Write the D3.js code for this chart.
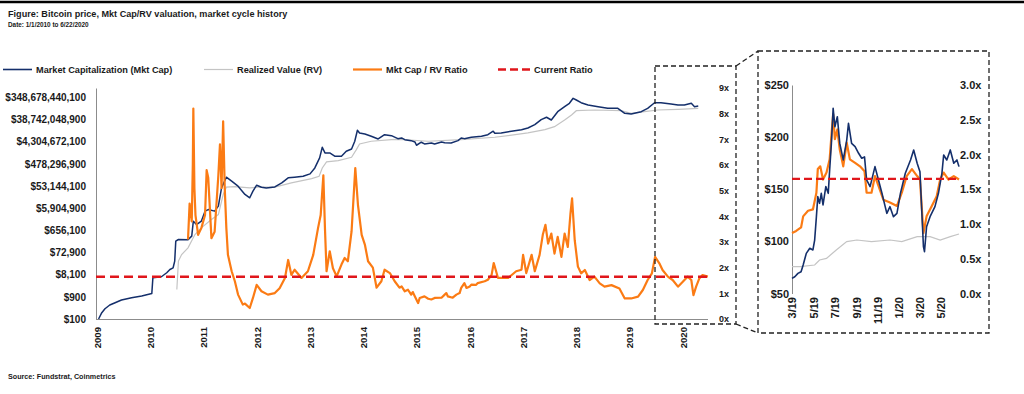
<!DOCTYPE html>
<html>
<head>
<meta charset="utf-8">
<script src="https://cdn.jsdelivr.net/npm/d3@7"></script>
<style>
  body { margin: 0; background: #fff; }
  text { font-family: Arial, "Liberation Sans", sans-serif; font-weight: bold; fill: #1a1a1a; }
</style>
</head>
<body>
<script>
// ---- data ----
// main chart: [decimal year, value]
const mktCap = [
  [2009.03, 100], [2009.09, 187], [2009.15, 277], [2009.24, 400], [2009.34, 502], [2009.46, 656],
  [2009.65, 822], [2009.84, 975], [2010.03, 1260], [2010.05, 5960],
  [2010.21, 6580], [2010.31, 9770], [2010.37, 13550], [2010.43, 16000], [2010.46, 31100], [2010.48, 225000],
  [2010.53, 264000], [2010.71, 260000], [2010.78, 370000], [2010.81, 1.63e6], [2010.87, 1.16e6], [2010.96, 1.63e6],
  [2011.03, 4.39e6], [2011.09, 5.14e6], [2011.21, 4.39e6], [2011.28, 7.19e6], [2011.34, 4.4e7], [2011.43, 1.27e8],
  [2011.53, 8.55e7], [2011.65, 5.21e7], [2011.78, 2.3e7], [2011.87, 1.65e7], [2011.93, 3.2e7], [2012.0, 5.75e7],
  [2012.09, 4.72e7], [2012.18, 4.4e7], [2012.34, 4.86e7], [2012.47, 7.23e7], [2012.59, 1.19e8], [2012.71, 1.27e8],
  [2012.87, 1.4e8], [2013.0, 1.76e8], [2013.09, 3.18e8], [2013.18, 8.57e8], [2013.23, 2.47e9], [2013.28, 1.41e9],
  [2013.37, 1.41e9], [2013.47, 1.01e9], [2013.59, 1.01e9], [2013.68, 1.67e9], [2013.78, 2.09e9], [2013.84, 4.48e9],
  [2013.89, 1.33e10], [2013.93, 1.02e10], [2014.03, 9.23e9], [2014.15, 7.35e9], [2014.28, 5.62e9], [2014.40, 8.59e9],
  [2014.53, 7.79e9], [2014.65, 5.8e9], [2014.72, 6.21e9], [2014.78, 5.25e9], [2014.90, 4.75e9], [2014.97, 4.18e9],
  [2015.0, 3.01e9], [2015.09, 4.06e9], [2015.15, 3.43e9], [2015.28, 3.78e9], [2015.34, 3.43e9], [2015.47, 4.18e9],
  [2015.53, 3.9e9], [2015.65, 3.78e9], [2015.78, 4.75e9], [2015.84, 6.21e9], [2015.90, 5.8e9], [2016.03, 6.65e9],
  [2016.22, 7.35e9], [2016.34, 8.59e9], [2016.44, 1.21e10], [2016.47, 9.9e9], [2016.59, 1.02e10], [2016.78, 1.21e10],
  [2016.97, 1.41e10], [2017.09, 1.67e10], [2017.22, 2.32e10],
  [2017.34, 3.8e10], [2017.44, 4.82e10], [2017.53, 3.68e10], [2017.65, 8.37e10], [2017.78, 1.38e11], [2017.87, 1.93e11],
  [2017.94, 3.16e11], [2018.0, 2.67e11], [2018.09, 2.04e11], [2018.22, 1.63e11], [2018.41, 1.38e11], [2018.59, 1.17e11],
  [2018.78, 1.17e11], [2018.91, 7.14e10], [2019.03, 6.68e10], [2019.22, 8.37e10], [2019.34, 1.17e11], [2019.47, 2.04e11],
  [2019.59, 2.04e11], [2019.78, 1.8e11], [2019.91, 1.63e11], [2020.03, 1.63e11], [2020.16, 1.93e11], [2020.22, 1.38e11],
  [2020.29, 1.47e11]
];
const realizedValue = [
  [2010.50, 1870], [2010.53, 31100], [2010.59, 59800], [2010.71, 1.16e5], [2010.84, 4.34e5], [2010.96, 8.41e5],
  [2011.15, 1.91e6], [2011.28, 3.13e6], [2011.37, 2.27e7], [2011.43, 4.72e7], [2011.59, 5.01e7], [2011.87, 4.4e7],
  [2012.03, 4.72e7], [2012.34, 4.72e7], [2012.65, 7.23e7], [2013.03, 1.11e8], [2013.17, 1.4e8], [2013.23, 3.18e8],
  [2013.31, 5.78e8], [2013.53, 6.56e8], [2013.78, 9.19e8], [2013.87, 1.95e9], [2013.93, 3.43e9], [2014.15, 4.48e9],
  [2014.53, 5.25e9], [2014.68, 5.35e9], [2015.22, 4.48e9], [2015.84, 5.25e9], [2016.47, 6.65e9], [2017.09, 1.02e10],
  [2017.41, 1.41e10], [2017.59, 1.9e10], [2017.78, 3.68e10], [2017.91, 6.05e10], [2018.0, 9.25e10], [2018.34, 9.91e10],
  [2018.84, 9.25e10], [2019.03, 7.14e10], [2019.28, 8.37e10], [2019.53, 9.91e10], [2019.91, 1.06e11], [2020.29, 1.17e11]
];
const ratio = [
  [2010.71, 3.1], [2010.74, 4.5], [2010.78, 3.8], [2010.80, 6.0], [2010.81, 8.2], [2010.83, 5.1], [2010.85, 4.05],
  [2010.90, 3.28], [2010.96, 3.54], [2011.03, 4.05], [2011.06, 5.8], [2011.09, 5.5], [2011.15, 3.15], [2011.21, 3.4],
  [2011.28, 5.6], [2011.31, 6.8], [2011.34, 5.1], [2011.37, 7.7], [2011.40, 5.1], [2011.43, 3.55], [2011.46, 2.5],
  [2011.53, 1.86], [2011.59, 1.47], [2011.65, 0.95], [2011.74, 0.56], [2011.78, 0.6], [2011.87, 0.43], [2011.93, 0.82],
  [2012.0, 1.33], [2012.09, 1.08], [2012.21, 0.95], [2012.34, 1.01], [2012.43, 1.2], [2012.53, 1.6], [2012.59, 2.3],
  [2012.65, 1.72], [2012.71, 1.92], [2012.84, 1.6], [2012.96, 1.86], [2013.06, 2.5], [2013.15, 3.54], [2013.20, 4.05],
  [2013.25, 5.6], [2013.28, 3.54], [2013.31, 1.86], [2013.37, 2.64], [2013.43, 1.98], [2013.50, 1.66], [2013.59, 2.12],
  [2013.65, 2.38], [2013.71, 2.25], [2013.78, 3.41], [2013.85, 5.88], [2013.90, 4.45], [2013.97, 3.28], [2014.03, 2.9],
  [2014.09, 2.25], [2014.18, 2.0], [2014.25, 1.22], [2014.34, 1.47], [2014.40, 1.92], [2014.50, 1.79], [2014.59, 1.47],
  [2014.68, 1.22], [2014.72, 1.27], [2014.78, 1.08], [2014.84, 1.14], [2014.90, 0.95], [2014.93, 1.05], [2014.97, 0.88],
  [2015.03, 0.62], [2015.06, 0.82], [2015.15, 0.88], [2015.22, 0.79], [2015.28, 0.76], [2015.34, 0.82], [2015.47, 0.83],
  [2015.53, 0.95], [2015.56, 1.01], [2015.59, 0.88], [2015.68, 0.83], [2015.75, 0.95], [2015.81, 1.01], [2015.84, 1.21],
  [2015.90, 1.4], [2015.94, 1.21], [2016.0, 1.27], [2016.03, 1.34], [2016.12, 1.33], [2016.15, 1.4], [2016.28, 1.47],
  [2016.34, 1.53], [2016.41, 1.72], [2016.45, 2.18], [2016.53, 1.6], [2016.72, 1.6], [2016.87, 1.86], [2016.97, 1.92], [2017.0, 2.5],
  [2017.06, 1.79], [2017.16, 2.5], [2017.22, 1.86], [2017.31, 2.5], [2017.37, 3.28], [2017.42, 3.67], [2017.47, 2.94],
  [2017.53, 3.33], [2017.59, 2.55], [2017.65, 3.2], [2017.72, 2.42], [2017.78, 3.33], [2017.84, 2.81], [2017.89, 4.11],
  [2017.92, 4.7], [2017.97, 3.07], [2018.03, 2.04], [2018.09, 1.78], [2018.16, 1.91], [2018.25, 1.52], [2018.34, 1.65],
  [2018.44, 1.39], [2018.53, 1.26], [2018.66, 1.32], [2018.81, 1.19], [2018.91, 0.8], [2019.03, 0.8], [2019.16, 0.87],
  [2019.25, 1.13], [2019.34, 1.52], [2019.42, 1.78], [2019.48, 2.42], [2019.56, 2.17], [2019.62, 1.91], [2019.72, 1.65],
  [2019.81, 1.52], [2019.91, 1.26], [2020.0, 1.45], [2020.09, 1.65], [2020.16, 1.52], [2020.20, 0.93], [2020.25, 1.26],
  [2020.31, 1.58], [2020.37, 1.71], [2020.47, 1.65]
];
const currentRatio = 1.65;
const capTicks = d3.range(11).map(k => 100 * Math.pow(9, k));   // $100 ... $348,678,440,100
const ratioTicks = d3.range(10);                                 // 0x ... 9x

// inset (3/19 - 6/20): [date, value]; mkt cap / RV in $bn
const insetCap = [
  ["2019-03-01", 64.5], ["2019-03-09", 66.1], ["2019-03-18", 69.3], ["2019-03-27", 70.9], ["2019-04-02", 77.3],
  ["2019-04-11", 88.5], ["2019-04-21", 93.4], ["2019-04-30", 91.8], ["2019-05-05", 101.3], ["2019-05-10", 123.7],
  ["2019-05-14", 142.9], ["2019-05-19", 136.5], ["2019-05-24", 146.1], ["2019-05-29", 134.9], ["2019-06-06", 152.5],
  ["2019-06-13", 146.1], ["2019-06-17", 168.5], ["2019-06-22", 194.0], ["2019-06-27", 227.7], ["2019-07-02", 210.0],
  ["2019-07-09", 219.6], ["2019-07-16", 194.0], ["2019-07-26", 178.1], ["2019-08-05", 197.2], ["2019-08-10", 213.2],
  ["2019-08-19", 194.0], ["2019-08-29", 190.9], ["2019-09-08", 184.5], ["2019-09-17", 179.7], ["2019-09-25", 181.0],
  ["2019-10-01", 158.9], ["2019-10-11", 152.5], ["2019-10-25", 171.7], ["2019-11-04", 158.9], ["2019-11-14", 146.1],
  ["2019-11-28", 126.9], ["2019-12-07", 133.3], ["2019-12-17", 123.7], ["2019-12-27", 126.9], ["2020-01-06", 146.1],
  ["2020-01-20", 165.3], ["2020-02-04", 178.1], ["2020-02-13", 187.7], ["2020-02-23", 174.9], ["2020-03-02", 166.9],
  ["2020-03-12", 94.9], ["2020-03-15", 90.1], ["2020-03-21", 114.1], ["2020-03-31", 123.7], ["2020-04-14", 133.3],
  ["2020-04-24", 146.1], ["2020-05-04", 165.3], ["2020-05-09", 182.9], ["2020-05-18", 178.1], ["2020-05-28", 187.7],
  ["2020-06-07", 174.9], ["2020-06-16", 178.1], ["2020-06-22", 171.7]
];
const insetRV = [
  ["2019-03-01", 75.7], ["2019-03-24", 75.7], ["2019-05-05", 77.3], ["2019-05-19", 82.1], ["2019-06-08", 83.7],
  ["2019-07-06", 91.8], ["2019-08-05", 99.8], ["2019-09-03", 101.3], ["2019-10-15", 99.8], ["2019-12-07", 101.3],
  ["2020-01-10", 99.8], ["2020-02-23", 104.6], ["2020-03-31", 104.6], ["2020-04-29", 101.3], ["2020-05-28", 104.6],
  ["2020-06-22", 107.1]
];
const insetRatio = [
  ["2019-03-01", 0.87], ["2019-03-13", 0.9], ["2019-03-27", 0.95], ["2019-04-02", 1.11], ["2019-04-16", 1.19],
  ["2019-04-30", 1.21], ["2019-05-10", 1.45], ["2019-05-14", 1.79], ["2019-05-21", 1.83], ["2019-05-29", 1.64],
  ["2019-06-08", 1.74], ["2019-06-17", 1.93], ["2019-06-22", 2.27], ["2019-06-27", 2.58], ["2019-07-02", 2.22],
  ["2019-07-09", 2.36], ["2019-07-16", 2.07], ["2019-07-26", 1.83], ["2019-08-05", 2.17], ["2019-08-14", 1.93],
  ["2019-08-29", 1.88], ["2019-09-12", 1.83], ["2019-09-25", 1.76], ["2019-10-01", 1.45], ["2019-10-15", 1.45],
  ["2019-10-25", 1.69], ["2019-11-04", 1.55], ["2019-11-18", 1.35], ["2019-12-07", 1.31], ["2019-12-27", 1.26],
  ["2020-01-10", 1.45], ["2020-01-24", 1.69], ["2020-02-08", 1.79], ["2020-02-23", 1.69], ["2020-03-02", 1.64],
  ["2020-03-12", 0.87], ["2020-03-21", 1.11], ["2020-04-05", 1.26], ["2020-04-19", 1.4], ["2020-04-29", 1.64],
  ["2020-05-09", 1.74], ["2020-05-23", 1.64], ["2020-06-07", 1.69], ["2020-06-22", 1.64]
];
const insetCapTicks = [50, 100, 150, 200, 250];
const insetRatioTicks = [0, 0.5, 1, 1.5, 2, 2.5, 3];

const legendItems = [
  {label: "Market Capitalization (Mkt Cap)", color: "#142f6b", dash: null, w: 1.6, x: 3},
  {label: "Realized Value (RV)", color: "#c4c4c4", dash: null, w: 1.2, x: 204},
  {label: "Mkt Cap / RV Ratio", color: "#fb7b14", dash: null, w: 2.2, x: 353},
  {label: "Current Ratio", color: "#e0161b", dash: "8,4", w: 2.5, x: 498}
];

// ---- helpers ----
function yearToDate(y) {
  const yr = Math.floor(y);
  const a = Date.UTC(yr, 0, 1), b = Date.UTC(yr + 1, 0, 1);
  return new Date(a + (y - yr) * (b - a));
}
const parse = d3.utcParse("%Y-%m-%d");

const NAVY = "#142f6b", GREY = "#c4c4c4", ORANGE = "#fb7b14", RED = "#e0161b", AXIS = "#8c8c8c";

const svg = d3.select("body").append("svg")
    .attr("width", 1024)
    .attr("height", 394);

svg.append("rect").attr("width", 1024).attr("height", 394).attr("fill", "#fff");

// header
svg.append("line")
    .attr("x1", 0).attr("x2", 1024).attr("y1", 2).attr("y2", 2)
    .attr("stroke", "#000").attr("stroke-width", 2.5);
svg.append("text").attr("x", 8).attr("y", 17).attr("font-size", "9.1px")
    .text("Figure: Bitcoin price, Mkt Cap/RV valuation, market cycle history");
svg.append("text").attr("x", 8).attr("y", 27).attr("font-size", "6.4px")
    .text("Date: 1/1/2010 to 6/22/2020");
svg.append("text").attr("x", 8).attr("y", 378.5).attr("font-size", "7.2px")
    .text("Source: Fundstrat, Coinmetrics");

// legend
var legend = svg.selectAll("g.legend")
    .data(legendItems)
    .enter().append("g")
    .attr("class", "legend")
    .attr("transform", d => "translate(" + d.x + ",69.5)");
legend.append("line")
    .attr("x1", 0).attr("x2", d => d.dash ? 34 : 29)
    .attr("stroke", d => d.color)
    .attr("stroke-width", d => d.w)
    .attr("stroke-dasharray", d => d.dash);
legend.append("text")
    .attr("x", d => d.dash ? 36 : 33)
    .attr("dy", "0.35em")
    .attr("font-size", "9.2px")
    .text(d => d.label);

// ---- main chart ----
const x = d3.scaleUtc()
    .domain([new Date(Date.UTC(2009, 0, 1)), new Date(Date.UTC(2020, 5, 22))])
    .range([97, 708]);
const yCap = d3.scaleLog().base(9)
    .domain([100, 100 * Math.pow(9, 10.42)])
    .range([319, 88]);
const yRatio = d3.scaleLinear()
    .domain([0, 9])
    .range([319, 88]);

const main = svg.append("g").attr("class", "main");

main.append("g")
    .attr("class", "cap axis")
    .attr("transform", "translate(96,0)")
    .call(d3.axisLeft(yCap).tickValues(capTicks)
        .tickFormat(d => "$" + d3.format(",")(Math.round(d)))
        .tickSize(0).tickSizeOuter(0).tickPadding(10))
    .call(g => g.selectAll("text").attr("font-size", "10px").attr("fill", "#1a1a1a"))
    .call(g => g.select(".domain").attr("stroke", AXIS));

main.append("g")
    .attr("class", "ratio axis")
    .attr("transform", "translate(708,0)")
    .call(d3.axisRight(yRatio).tickValues(ratioTicks).tickFormat(d => d + "x")
        .tickSize(0).tickPadding(11))
    .call(g => g.selectAll("text").attr("font-size", "9px").attr("fill", "#1a1a1a"))
    .call(g => g.select(".domain").remove());

main.append("g")
    .attr("class", "year axis")
    .attr("transform", "translate(0,319)")
    .call(d3.axisBottom(x).ticks(d3.utcYear.every(1)).tickFormat(d3.utcFormat("%Y"))
        .tickSize(0).tickSizeOuter(0))
    .call(g => g.select(".domain").attr("stroke", AXIS).attr("d", "M96,0.5H708"))
    .call(g => g.selectAll("text")
        .attr("font-size", "9.6px").attr("fill", "#1a1a1a")
        .attr("transform", "rotate(-90)")
        .attr("text-anchor", "end")
        .attr("x", -8).attr("y", 0).attr("dy", "0.35em"));

const capLine = d3.line().x(d => x(yearToDate(d[0]))).y(d => yCap(d[1]));
const ratioLine = d3.line().x(d => x(yearToDate(d[0]))).y(d => yRatio(d[1]));

main.append("path").datum(realizedValue)
    .attr("fill", "none").attr("stroke", GREY).attr("stroke-width", 1.2)
    .attr("d", capLine);
main.append("path").datum(mktCap)
    .attr("fill", "none").attr("stroke", NAVY).attr("stroke-width", 1.5)
    .attr("stroke-linejoin", "round")
    .attr("d", capLine);
main.append("path").datum(ratio)
    .attr("fill", "none").attr("stroke", ORANGE).attr("stroke-width", 2.2)
    .attr("stroke-linejoin", "round")
    .attr("d", ratioLine);
main.append("line")
    .attr("x1", 96).attr("x2", 709)
    .attr("y1", yRatio(currentRatio)).attr("y2", yRatio(currentRatio))
    .attr("stroke", RED).attr("stroke-width", 2.5).attr("stroke-dasharray", "9,5");

// ---- zoom boxes ----
const boxes = svg.append("g")
    .attr("fill", "none").attr("stroke", "#222")
    .attr("stroke-width", 1.3).attr("stroke-dasharray", "5,3");
boxes.append("rect").attr("x", 655).attr("y", 66).attr("width", 81).attr("height", 258);
boxes.append("rect").attr("x", 758).attr("y", 51).attr("width", 231).attr("height", 282);
boxes.append("line").attr("x1", 736).attr("y1", 66).attr("x2", 758).attr("y2", 51);
boxes.append("line").attr("x1", 736).attr("y1", 324).attr("x2", 758).attr("y2", 333);

// ---- inset ----
const xi = d3.scaleUtc()
    .domain([new Date(Date.UTC(2019, 2, 1)), new Date(Date.UTC(2020, 5, 22))])
    .range([792, 959]);
const yi = d3.scaleLinear().domain([50, 250]).range([293.5, 85]);
const ri = d3.scaleLinear().domain([0, 3]).range([293.5, 85]);

const inset = svg.append("g").attr("class", "inset");

inset.append("g")
    .attr("transform", "translate(792,0)")
    .call(d3.axisLeft(yi).tickValues(insetCapTicks).tickFormat(d => "$" + d)
        .tickSize(0).tickSizeOuter(0).tickPadding(3))
    .call(g => g.selectAll("text").attr("font-size", "11px").attr("fill", "#1a1a1a"))
    .call(g => g.select(".domain").attr("stroke", AXIS));

inset.append("g")
    .attr("transform", "translate(959,0)")
    .call(d3.axisRight(ri).tickValues(insetRatioTicks).tickFormat(d => d3.format(".1f")(d) + "x")
        .tickSize(0).tickPadding(1))
    .call(g => g.selectAll("text").attr("font-size", "11px").attr("fill", "#1a1a1a"))
    .call(g => g.select(".domain").remove());

inset.append("g")
    .attr("transform", "translate(0,294)")
    .call(d3.axisBottom(xi).ticks(d3.utcMonth.every(2)).tickFormat(d3.utcFormat("%-m/%y"))
        .tickSize(0))
    .call(g => g.select(".domain").remove())
    .call(g => g.selectAll("text")
        .attr("font-size", "11px").attr("fill", "#1a1a1a")
        .attr("transform", "rotate(-90)")
        .attr("text-anchor", "end")
        .attr("x", -3).attr("y", 0).attr("dy", "0.35em"));

const insetCapLine = d3.line().x(d => xi(parse(d[0]))).y(d => yi(d[1]));
const insetRatioLine = d3.line().x(d => xi(parse(d[0]))).y(d => ri(d[1]));

inset.append("path").datum(insetRV)
    .attr("fill", "none").attr("stroke", GREY).attr("stroke-width", 1.2)
    .attr("d", insetCapLine);
inset.append("path").datum(insetRatio)
    .attr("fill", "none").attr("stroke", ORANGE).attr("stroke-width", 2.2)
    .attr("stroke-linejoin", "round")
    .attr("d", insetRatioLine);
inset.append("path").datum(insetCap)
    .attr("fill", "none").attr("stroke", NAVY).attr("stroke-width", 1.6)
    .attr("stroke-linejoin", "round")
    .attr("d", insetCapLine);
inset.append("line")
    .attr("x1", 792).attr("x2", 959)
    .attr("y1", ri(currentRatio)).attr("y2", ri(currentRatio))
    .attr("stroke", RED).attr("stroke-width", 2.2).attr("stroke-dasharray", "8,4");
</script>
</body>
</html>
